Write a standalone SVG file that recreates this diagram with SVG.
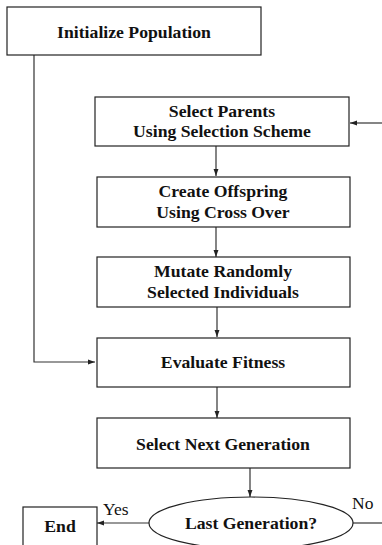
<svg xmlns="http://www.w3.org/2000/svg" width="382" height="545" viewBox="0 0 382 545">
<style>
.box{fill:#fff;stroke:#222;stroke-width:1.2}
.t{font-family:"Liberation Serif","Times New Roman",serif;font-weight:bold;font-size:17.7px;fill:#111;text-anchor:middle}
.l{font-family:"Liberation Serif","Times New Roman",serif;font-size:17.5px;fill:#111}
.c{fill:none;stroke:#333;stroke-width:1.2}
</style>
<defs>
<marker id="ah" viewBox="0 0 10 10" refX="10" refY="5" markerWidth="7" markerHeight="7" orient="auto" markerUnits="userSpaceOnUse">
<path d="M0,1.5 L10,5 L0,8.5 z" fill="#222"/>
</marker>
</defs>
<rect width="382" height="545" fill="#fff"/>
<g id="connectors">
<path class="c" d="M34,55 V362 H95" marker-end="url(#ah)"/>
<path class="c" d="M382,123 H350" marker-end="url(#ah)"/>
<path class="c" d="M216,146 V176" marker-end="url(#ah)"/>
<path class="c" d="M216,227 V257" marker-end="url(#ah)"/>
<path class="c" d="M217,307 V337" marker-end="url(#ah)"/>
<path class="c" d="M217,387 V418" marker-end="url(#ah)"/>
<path class="c" d="M250,468 V497" marker-end="url(#ah)"/>
<path class="c" d="M149,523 H97" marker-end="url(#ah)"/>
<path class="c" d="M353,523 H382"/>
<text class="l" x="103" y="515">Yes</text>
<text class="l" x="352" y="509">No</text>
</g>
<g id="init">
<rect class="box" x="7" y="7" width="254" height="48"/>
<text class="t" x="134" y="38">Initialize Population</text>
</g>
<g id="select-parents">
<rect class="box" x="95" y="97" width="254" height="49"/>
<text class="t" x="222" y="117">Select Parents</text>
<text class="t" x="222" y="137">Using Selection Scheme</text>
</g>
<g id="create-offspring">
<rect class="box" x="97" y="177" width="253" height="50"/>
<text class="t" x="223" y="197">Create Offspring</text>
<text class="t" x="223" y="218">Using Cross Over</text>
</g>
<g id="mutate">
<rect class="box" x="97" y="257" width="253" height="50"/>
<text class="t" x="223" y="277">Mutate Randomly</text>
<text class="t" x="223" y="298">Selected Individuals</text>
</g>
<g id="evaluate">
<rect class="box" x="97" y="338" width="253" height="49"/>
<text class="t" x="223" y="368">Evaluate Fitness</text>
</g>
<g id="select-next">
<rect class="box" x="97" y="418" width="253" height="50"/>
<text class="t" x="223" y="450">Select Next Generation</text>
</g>
<g id="last-gen">
<ellipse class="box" cx="251" cy="523" rx="102" ry="26"/>
<text class="t" x="251" y="529">Last Generation?</text>
</g>
<g id="end">
<rect class="box" x="23" y="507" width="74" height="45"/>
<text class="t" x="60" y="532">End</text>
</g>
</svg>
